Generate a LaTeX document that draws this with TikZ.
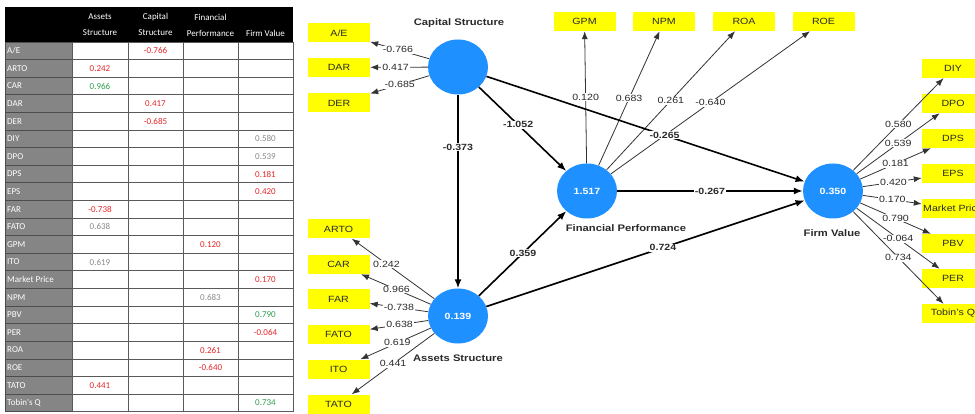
\documentclass[tikz,border=0pt]{standalone}
\usepackage{fontspec}
\setmainfont{Liberation Sans}[FakeStretch=1.18]
\newfontfamily\tabfont{Carlito}
\usetikzlibrary{arrows.meta,shapes.geometric}
\definecolor{lvblue}{HTML}{1E90FF}
\definecolor{indyel}{HTML}{FFFF00}
\definecolor{tred}{HTML}{E8262A}
\definecolor{tgreen}{HTML}{2EA04F}
\definecolor{tgray}{HTML}{8A8A8A}
\definecolor{labgray}{HTML}{858585}
\definecolor{txt}{HTML}{2A2A2A}
\begin{document}
\begin{tikzpicture}[x=1pt,y=-1pt,
  lv/.style={ellipse, fill=lvblue, minimum width=60pt, minimum height=55pt, inner sep=0pt, text=white, font=\fontsize{9}{10}\selectfont\bfseries},
  ind/.style={fill=indyel, minimum width=62pt, minimum height=19pt, inner sep=0pt, text=txt, font=\fontsize{9}{10}\selectfont},
  lvname/.style={text=txt, font=\fontsize{9.5}{11}\selectfont\bfseries},
  ldarrow/.style={draw=black!80, line width=0.8pt, -{Latex[length=8pt,width=6pt]}},
  sparrow/.style={draw=black, line width=1.6pt, -{Latex[length=9pt,width=7pt]}},
  wl/.style={fill=white, inner sep=0.8pt, text=txt, font=\fontsize{9}{10}\selectfont},
  wlb/.style={wl, font=\fontsize{9}{10}\selectfont\bfseries},
  hdr/.style={text=white, inner sep=0pt, font=\tabfont\fontsize{9}{10}\selectfont},
  rowlab/.style={text=white, inner sep=0pt, anchor=west, font=\tabfont\fontsize{9}{10}\selectfont},
  tabval/.style={inner sep=0pt, font=\tabfont\fontsize{9}{10}\selectfont},
  cellw/.style={draw=black!65, line width=0.6pt, fill=white},
  cellg/.style={draw=black!70, line width=0.6pt, fill=labgray}
]
\clip (0,0) rectangle (975,414);
\fill[white] (0,0) rectangle (975,414);

% ---------------- table ----------------
\fill[black] (5,7) rectangle (293,42);
\node[hdr] (h1a) at (100,17) {Assets};
\node[hdr] (h1b) at (100,33) {Structure};
\node[hdr] (h2a) at (155.5,17) {Capital};
\node[hdr] (h2b) at (155.5,33) {Structure};
\node[hdr] (h3a) at (210.5,17) {Financial};
\node[hdr] (h3b) at (210.5,33) {Performance};
\node[hdr] (h4b) at (265.5,33) {Firm Value};

\foreach \lab/\col/\clr/\val [count=\i] in {
  {A/E}/2/tred/{-0.766},
  ARTO/1/tred/0.242,
  CAR/1/tgreen/0.966,
  DAR/2/tred/0.417,
  DER/2/tred/{-0.685},
  DIY/4/tgray/0.580,
  DPO/4/tgray/0.539,
  DPS/4/tred/0.181,
  EPS/4/tred/0.420,
  FAR/1/tred/{-0.738},
  FATO/1/tgray/0.638,
  GPM/3/tred/0.120,
  ITO/1/tgray/0.619,
  {Market Price}/4/tred/0.170,
  NPM/3/tgray/0.683,
  PBV/4/tgreen/0.790,
  PER/4/tred/{-0.064},
  ROA/3/tred/0.261,
  ROE/3/tred/{-0.640},
  TATO/1/tred/0.441,
  {Tobin's Q}/4/tgreen/0.734}{
  \pgfmathsetmacro\yt{42+17.6*(\i-1)}
  \pgfmathsetmacro\yb{42+17.6*\i}
  \pgfmathsetmacro\ym{42+17.6*(\i-0.5)}
  \pgfmathsetmacro\cx{{100,155.5,210.5,265.5}[\col-1]}
  \draw[cellg] (5,\yt) rectangle (72,\yb);
  \foreach \xa/\xb in {72/128,128/183,183/238,238/293}
    \draw[cellw] (\xa,\yt) rectangle (\xb,\yb);
  \node[rowlab] (lab\i) at (7,\ym) {\lab};
  \node[tabval, text=\clr] (val\i) at (\cx,\ym) {\val};
}

% ---------------- model ----------------
\node[lv] (CS) at (458,67) {};
\node[lv] (FP) at (587,191) {1.517};
\node[lv] (FV) at (833,191) {0.350};
\node[lv] (AS) at (458,316) {0.139};

\node[lvname] (CSn) at (459,23) {Capital Structure};
\node[lvname] (FPn) at (626,228) {Financial Performance};
\node[lvname] (FVn) at (832,233) {Firm Value};
\node[lvname] (ASn) at (458,358) {Assets Structure};

% indicators
\node[ind] (AE) at (339,33) {A/E};
\node[ind] (DAR) at (339,67.5) {DAR};
\node[ind] (DER) at (339,103) {DER};

\node[ind] (ARTO) at (338.5,229) {ARTO};
\node[ind] (CAR) at (338.5,264.5) {CAR};
\node[ind] (FAR) at (338.5,299) {FAR};
\node[ind] (FATO) at (338.5,334) {FATO};
\node[ind] (ITO) at (338.5,369) {ITO};
\node[ind] (TATO) at (338.5,404) {TATO};

\node[ind] (GPM) at (584.5,21.5) {GPM};
\node[ind] (NPM) at (664,21.5) {NPM};
\node[ind] (ROA) at (744,21.5) {ROA};
\node[ind] (ROE) at (823.5,21.5) {ROE};

\node[ind] (DIY) at (953,68.5) {DIY};
\node[ind] (DPO) at (953,103.5) {DPO};
\node[ind] (DPS) at (953,138.5) {DPS};
\node[ind] (EPS) at (953,173.5) {EPS};
\node[ind] (MP) at (953,208.5) {Market Price};
\node[ind] (PBV) at (953,243.5) {PBV};
\node[ind] (PER) at (953,278.5) {PER};
\node[ind] (TQ) at (953,313.5) {Tobin's Q};

% outer loadings
\draw[ldarrow] (CS) -- node[wl,pos=0.53]{-0.766} (AE);
\draw[ldarrow] (CS) -- node[wl,pos=0.56]{0.417} (DAR);
\draw[ldarrow] (CS) -- node[wl,pos=0.5]{-0.685} (DER);

\draw[ldarrow] (AS) -- node[wl,pos=0.58]{0.242} (ARTO);
\draw[ldarrow] (AS) -- node[wl,pos=0.49]{0.966} (CAR);
\draw[ldarrow] (AS) -- node[wl,pos=0.5]{-0.738} (FAR);
\draw[ldarrow] (AS) -- node[wl,pos=0.49]{0.638} (FATO);
\draw[ldarrow] (AS) -- node[wl,pos=0.475]{0.619} (ITO);
\draw[ldarrow] (AS) -- node[wl,pos=0.5]{0.441} (TATO);

\draw[ldarrow] (FP) -- node[wl,pos=0.5]{0.120} (GPM);
\draw[ldarrow] (FP) -- node[wl,pos=0.5]{0.683} (NPM);
\draw[ldarrow] (FP) -- node[wl,pos=0.5]{0.261} (ROA);
\draw[ldarrow] (FP) -- node[wl,pos=0.5]{-0.640} (ROE);

\draw[ldarrow] (FV) -- node[wl,pos=0.5]{0.580} (DIY);
\draw[ldarrow] (FV) -- node[wl,pos=0.5]{0.539} (DPO);
\draw[ldarrow] (FV) -- node[wl,pos=0.5]{0.181} (DPS);
\draw[ldarrow] (FV) -- node[wl,pos=0.52]{0.420} (EPS);
\draw[ldarrow] (FV) -- node[wl,pos=0.5]{0.170} (MP);
\draw[ldarrow] (FV) -- node[wl,pos=0.5]{0.790} (PBV);
\draw[ldarrow] (FV) -- node[wl,pos=0.5]{-0.064} (PER);
\draw[ldarrow] (FV) -- node[wl,pos=0.5]{0.734} (TQ);

% structural paths
\draw[sparrow] (CS) -- node[wlb,pos=0.45]{-1.052} (FP);
\draw[sparrow] (CS) -- node[wlb,pos=0.56]{-0.265} (FV);
\draw[sparrow] (CS) -- node[wlb,pos=0.27]{-0.373} (AS);
\draw[sparrow] (FP) -- node[wlb,pos=0.5]{-0.267} (FV);
\draw[sparrow] (AS) -- node[wlb,pos=0.505]{0.359} (FP);
\draw[sparrow] (AS) -- node[wlb,pos=0.555]{0.724} (FV);
\end{tikzpicture}
\end{document}
